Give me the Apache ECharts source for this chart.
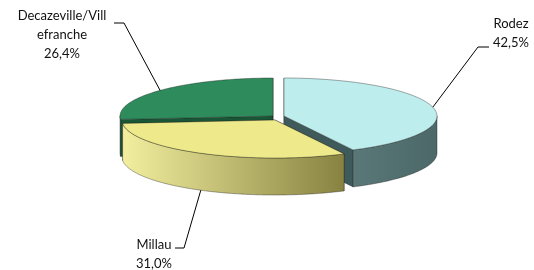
<!DOCTYPE html>
<html>
<head>
<meta charset="utf-8">
<script src="https://cdn.jsdelivr.net/npm/echarts@6/dist/echarts.min.js"></script>
<style>html,body{margin:0;padding:0;background:#fff}#c{width:534px;height:270px}</style>
</head>
<body>
<div id="c"></div>
<script>
// ---- data ----
const categories = ['Rodez', 'Millau', 'Decazeville/Villefranche'];
const values = [42.5, 31.0, 26.4];

// ---- layout / style ----
const CX = 273, CY = 116, RX = 153, RY = 38, H = 37;
const explode = [[11, 0], [2, 4], [0, 0]];
const topColors = ['#BEEDED', '#EEEA8C', '#2E8B5C'];
const sideColors = [['#5A7878', '#4C6868'], ['#F3EF9F', '#878240'], ['#247349', '#1C6040']];
const cutColors = ['#3F5A5A', '#7E7A3A', '#195636'];
const wrapAt = [0, 0, 16];
const labelPos = [
  { x: 511, y: 33, elbow: [[478, 47], [489, 47]] },
  { x: 154, y: 254, elbow: [[184, 248], [175, 248]] },
  { x: 62, y: 35, elbow: [[124, 23], [114, 23]] }
];
const FONT = '13px "Comic Sans MS", Lato, sans-serif';

const total = values.reduce((a, b) => a + b, 0);
const startA = [], endA = [];
let acc = Math.PI / 2;
values.forEach((v, i) => {
  startA.push(acc);
  acc -= v / total * Math.PI * 2;
  endA.push(acc);
});
// depth rank: back-most first
const mids = values.map((v, i) => (startA[i] + endA[i]) / 2);
const order = mids.map((m, i) => i).sort((a, b) => Math.sin(mids[b]) - Math.sin(mids[a]));
const rank = [];
order.forEach((idx, r) => rank[idx] = r);

function pt(cx, cy, a, dy) {
  return [cx + RX * Math.cos(a), cy - RY * Math.sin(a) + (dy || 0)];
}
function arc(cx, cy, a0, a1, dy) {
  const pts = [];
  const n = Math.max(2, Math.ceil(Math.abs(a1 - a0) / (Math.PI / 180)));
  for (let k = 0; k <= n; k++) pts.push(pt(cx, cy, a0 + (a1 - a0) * k / n, dy));
  return pts;
}
function fmt(v) { return v.toFixed(1).replace('.', ',') + '%'; }

function renderItem(params, api) {
  const i = params.dataIndex;
  const v = api.value(0);
  const cx = CX + explode[i][0], cy = CY + explode[i][1];
  const sa = startA[i], ea = endA[i];
  const r = rank[i];
  const children = [];
  const edge = 'rgba(30,30,30,0.55)';
  // cut faces
  [sa, ea].forEach(a => {
    const p0 = [cx, cy], p1 = pt(cx, cy, a);
    children.push({
      type: 'polygon', z2: r * 10 + 1,
      shape: { points: [p0, p1, [p1[0], p1[1] + H], [p0[0], p0[1] + H]] },
      style: { fill: cutColors[i], stroke: edge, lineWidth: 0.6 }
    });
  });
  // outer side wall (front half only)
  const hi = Math.min(sa, 0), lo = Math.max(ea, -Math.PI);
  if (hi > lo) {
    const top = arc(cx, cy, hi, lo, 0);
    const bot = arc(cx, cy, lo, hi, H);
    const xs = top.map(p => p[0]);
    children.push({
      type: 'polygon', z2: r * 10 + 2,
      shape: { points: top.concat(bot) },
      style: {
        fill: new echarts.graphic.LinearGradient(0, 0, 1, 0, [
          { offset: 0, color: sideColors[i][0] }, { offset: 1, color: sideColors[i][1] }
        ]),
        stroke: edge, lineWidth: 0.7
      }
    });
  }
  // top face
  children.push({
    type: 'polygon', z2: 100 + r,
    shape: { points: [[cx, cy]].concat(arc(cx, cy, sa, ea, 0)) },
    style: { fill: topColors[i], stroke: edge, lineWidth: 0.7 }
  });
  // leader line + label
  const m = (sa + ea) / 2;
  const anchor = Math.sin(m) < 0 ? pt(cx, cy, m, H) : pt(cx, cy, m, 0);
  const lp = labelPos[i];
  children.push({
    type: 'polyline', z2: 200,
    shape: { points: [anchor].concat(lp.elbow) },
    style: { stroke: '#000', lineWidth: 1, fill: null }
  });
  let name = categories[i];
  if (wrapAt[i]) name = name.slice(0, wrapAt[i]) + '\n' + name.slice(wrapAt[i]);
  children.push({
    type: 'text', z2: 201,
    style: {
      text: name + '\n' + fmt(v), x: lp.x, y: lp.y,
      font: FONT, fill: '#111', align: 'center', verticalAlign: 'middle', lineHeight: 19
    }
  });
  return { type: 'group', children };
}

const chart = echarts.init(document.getElementById('c'), null, { renderer: 'canvas' });
chart.setOption({
  backgroundColor: '#fff',
  animation: false,
  series: [{
    type: 'custom',
    coordinateSystem: 'none',
    renderItem,
    data: values.map(v => [v])
  }]
});
</script>
</body>
</html>
